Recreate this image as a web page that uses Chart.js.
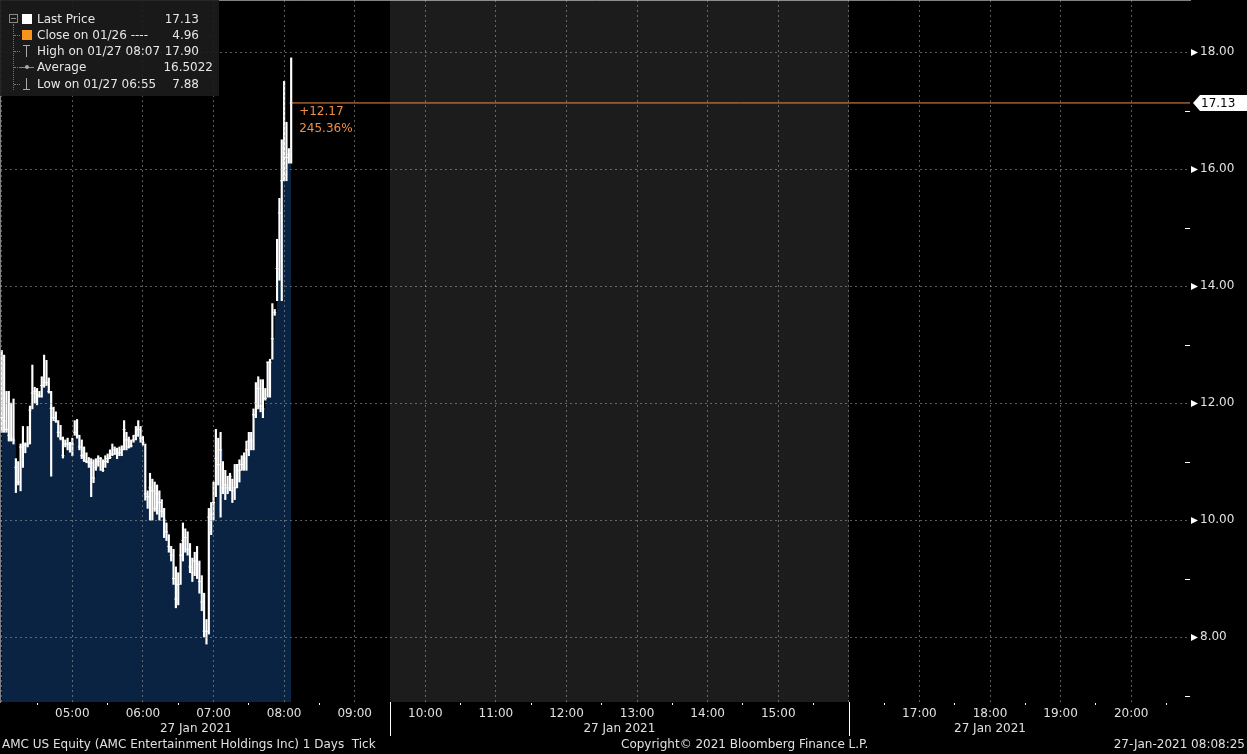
<!DOCTYPE html>
<html>
<head>
<meta charset="utf-8">
<script src="https://cdn.jsdelivr.net/npm/chart.js@4.4.0/dist/chart.umd.min.js"></script>
<style>
  html, body { margin: 0; padding: 0; background: #000; }
  #wrap { position: relative; width: 1247px; height: 754px; overflow: hidden; }
  #legend { position: absolute; left: 0; top: 0; width: 219px; height: 96px; background: rgba(28, 28, 28, 0.9);
            font: 12px "DejaVu Sans", sans-serif; color: #e6e6e6; }
  #legend div { position: absolute; }
  .lbl { left: 37px; line-height: 16px; white-space: pre; }
  .val { line-height: 16px; text-align: right; white-space: pre; }
  .foot { position: absolute; top: 737px; line-height: 16px; font: 12px "DejaVu Sans", sans-serif; color: #e0e0e0; white-space: pre; }
</style>
</head>
<body>
<div id="wrap">
  <canvas id="chart"></canvas>

  <div id="legend">
    <!-- tree lines -->
    <div style="left:9px;top:14px;width:7px;height:7px;border:1px solid #888"></div>
    <div style="left:11px;top:18px;width:5px;height:1px;background:#888"></div>
    <div style="left:13px;top:24px;height:66px;border-left:1px dotted #777"></div>
    <div style="left:14px;top:35px;width:6px;border-top:1px dotted #777"></div>
    <div style="left:14px;top:51px;width:6px;border-top:1px dotted #777"></div>
    <div style="left:14px;top:67px;width:6px;border-top:1px dotted #777"></div>
    <div style="left:14px;top:84px;width:6px;border-top:1px dotted #777"></div>
    <!-- markers -->
    <div style="left:22px;top:14px;width:10px;height:10px;background:#fff"></div>
    <div style="left:22px;top:30px;width:10px;height:10px;background:#f7941d"></div>
    <div style="left:23px;top:45px;width:7px;height:1px;background:#aaa"></div>
    <div style="left:26px;top:45px;width:1px;height:12px;background:#aaa"></div>
    <div style="left:20px;top:67px;width:14px;height:1px;background:#888"></div>
    <div style="left:25px;top:65px;width:4px;height:4px;border-radius:2px;background:#aaa"></div>
    <div style="left:26px;top:78px;width:1px;height:12px;background:#aaa"></div>
    <div style="left:23px;top:89px;width:7px;height:1px;background:#aaa"></div>
    <!-- texts -->
    <div class="lbl" style="top:11px">Last Price</div>
    <div class="val" style="top:11px;right:20px">17.13</div>
    <div class="lbl" style="top:27px">Close on 01/26 ----</div>
    <div class="val" style="top:27px;right:20px">4.96</div>
    <div class="lbl" style="top:43px">High on 01/27 08:07</div>
    <div class="val" style="top:43px;right:20px">17.90</div>
    <div class="lbl" style="top:59px">Average</div>
    <div class="val" style="top:59px;right:6px">16.5022</div>
    <div class="lbl" style="top:76px">Low on 01/27 06:55</div>
    <div class="val" style="top:76px;right:20px">7.88</div>
  </div>

  <div class="foot" style="left:2px">AMC US Equity (AMC Entertainment Holdings Inc) 1 Days  Tick</div>
  <div class="foot" style="left:621px">Copyright© 2021 Bloomberg Finance L.P.</div>
  <div class="foot" style="right:2px">27-Jan-2021 08:08:25</div>
</div>

<script>
// 2 minute bars from 04:00 until 08:08
const barStart = '04:00';
const barMinutes = 2;

const closes = [
  11.75, 11.70, 11.55, 11.45, 11.40, 11.37, 10.90, 10.65, 11.25, 11.30,
  11.28, 11.30, 11.88, 12.17, 12.20, 12.15, 12.12, 12.30, 12.36, 12.35,
  12.20, 11.91, 11.75, 11.70, 11.50, 11.40, 11.10, 11.30, 11.30, 11.30,
  11.30, 11.50, 11.45, 11.25, 11.10, 11.02, 11.00, 10.98, 10.98, 10.72,
  10.90, 11.00, 11.05, 10.85, 11.00, 11.05, 11.07, 11.13, 11.20, 11.13,
  11.15, 11.20, 11.55, 11.37, 11.25, 11.27, 11.37, 11.45, 11.55, 11.40,
  11.33, 10.45, 10.40, 10.55, 10.50, 10.20, 10.45, 10.30, 10.15, 10.00,
  9.80, 9.55, 9.40, 9.00, 8.65, 8.90, 9.40, 9.65, 9.70, 9.50,
  9.20, 9.10, 9.30, 9.25, 8.95, 8.60, 8.10, 8.10, 10.05, 10.10,
  10.30, 11.05, 10.95, 11.20, 10.55, 10.60, 10.55, 10.75, 10.50, 10.55,
  10.95, 10.85, 10.95, 11.05, 11.20, 11.35, 11.37, 11.80, 12.00, 12.25,
  11.95, 11.90, 12.08, 12.70, 12.70, 13.10, 13.55, 14.30, 15.25, 15.80,
  15.90, 16.20, 16.25, 17.13
];
const highs = [
  12.90, 12.82, 12.20, 12.20, 12.00, 12.07, 11.05, 11.00, 11.30, 11.60,
  11.32, 11.60, 11.95, 12.65, 12.27, 12.25, 12.20, 12.45, 12.82, 12.73,
  12.43, 12.20, 11.93, 11.85, 11.70, 11.62, 11.42, 11.37, 11.40, 11.33,
  11.40, 11.70, 11.72, 11.45, 11.37, 11.25, 11.15, 11.07, 11.05, 11.03,
  11.05, 11.10, 11.07, 11.03, 11.10, 11.13, 11.20, 11.30, 11.25, 11.23,
  11.25, 11.27, 11.70, 11.50, 11.42, 11.37, 11.45, 11.60, 11.70, 11.60,
  11.43, 11.30, 10.50, 10.80, 10.70, 10.65, 10.60, 10.50, 10.35, 10.20,
  9.95, 9.75, 9.55, 9.50, 9.20, 9.10, 9.60, 9.95, 9.85, 9.80,
  9.60, 9.35, 9.45, 9.55, 9.30, 9.05, 8.75, 8.30, 10.20, 10.30,
  10.65, 11.55, 11.40, 11.50, 11.00, 10.85, 10.75, 10.80, 10.70, 10.95,
  10.95, 11.03, 11.10, 11.15, 11.35, 11.50, 11.50, 11.90, 12.35, 12.45,
  12.40, 12.40, 12.25, 12.70, 12.75, 13.70, 13.60, 14.80, 15.50, 16.50,
  17.50, 16.80, 16.35, 17.90
];
const lows = [
  11.50, 11.50, 11.50, 11.35, 11.35, 11.30, 10.47, 10.60, 10.50, 10.90,
  11.15, 11.25, 11.30, 11.90, 12.00, 11.97, 12.10, 12.10, 12.27, 12.30,
  12.17, 10.75, 11.70, 11.67, 11.42, 11.37, 11.06, 11.25, 11.20, 11.16,
  11.10, 11.45, 11.40, 11.20, 11.05, 11.00, 10.98, 10.90, 10.40, 10.64,
  10.85, 10.92, 10.85, 10.83, 10.90, 10.98, 11.05, 11.10, 11.12, 11.05,
  11.10, 11.10, 11.20, 11.20, 11.23, 11.25, 11.33, 11.37, 11.43, 11.33,
  11.28, 10.34, 10.20, 10.00, 10.00, 10.15, 10.10, 10.00, 10.05, 9.70,
  9.65, 9.45, 9.30, 8.90, 8.50, 8.55, 8.90, 9.30, 9.45, 9.40,
  9.10, 8.95, 9.05, 9.00, 8.75, 8.45, 8.00, 7.88, 8.05, 9.75,
  10.00, 10.40, 10.60, 10.05, 10.45, 10.35, 10.45, 10.50, 10.30, 10.35,
  10.55, 10.65, 10.85, 10.85, 10.85, 11.10, 11.20, 11.20, 11.75, 11.90,
  11.85, 11.75, 12.05, 12.10, 12.10, 12.75, 13.50, 13.75, 14.10, 13.75,
  15.80, 15.80, 16.10, 16.10
];

const lastPrice = 17.13;
const prevClose = 4.96;

const yLabelTicks = [8, 10, 12, 14, 16, 18];
const yMinorTicks = [7, 9, 11, 13, 15, 17];
const hourLabels = ['05:00', '06:00', '07:00', '08:00', '09:00', '10:00', '11:00', '12:00',
                    '13:00', '14:00', '15:00', '17:00', '18:00', '19:00', '20:00'];
const sessionEdges = ['04:00', '09:30', '16:00', '20:00'];
const dateLabel = '27 Jan 2021';

const TEXT = '#e0e0e0';
const GRID = 'rgba(165, 165, 165, 0.55)';
const NAVY = '#0b2342';
const ORANGE = '#ee8f45';
const FONT = '"DejaVu Sans", sans-serif';

const toMin = s => { const [h, m] = s.split(':').map(Number); return h * 60 + m; };
const pad = n => String(n).padStart(2, '0');
const fmt = m => pad(Math.floor(m / 60)) + ':' + pad(Math.round(m % 60));

const xMin = toMin('04:00') - 1.5;
const xMax = toMin('20:50');
const yMin = 6.89, yMax = 18.89;

const times = closes.map((_, i) => toMin(barStart) + i * barMinutes);
const lastTime = times[times.length - 1];

const xTicks = [];
for (let m = toMin('04:00'); m <= toMin('20:30'); m += 30) xTicks.push(m);
const yTicksAll = [...yMinorTicks, ...yLabelTicks].sort((a, b) => a - b);

const overlay = {
  id: 'overlay',
  beforeDraw(chart) {
    const { ctx, chartArea: a, scales: { x } } = chart;
    const x0 = x.getPixelForValue(toMin(sessionEdges[1]));
    const x1 = x.getPixelForValue(toMin(sessionEdges[2]));
    ctx.save();
    ctx.fillStyle = '#1c1c1c';
    ctx.fillRect(x0, a.top, x1 - x0, a.bottom - a.top);
    ctx.restore();
  },
  afterDraw(chart) {
    const { ctx, chartArea: a, scales: { x, y } } = chart;
    ctx.save();

    // y axis markers
    ctx.fillStyle = '#fff';
    ctx.strokeStyle = '#fff';
    ctx.lineWidth = 1;
    yLabelTicks.forEach(v => {
      const py = Math.round(y.getPixelForValue(v)) + 0.5;
      ctx.beginPath();
      ctx.moveTo(a.right + 1, py - 3.5);
      ctx.lineTo(a.right + 8, py);
      ctx.lineTo(a.right + 1, py + 3.5);
      ctx.closePath();
      ctx.fill();
    });
    yMinorTicks.forEach(v => {
      const py = Math.round(y.getPixelForValue(v)) + 0.5;
      ctx.beginPath();
      ctx.moveTo(a.right - 5, py);
      ctx.lineTo(a.right, py);
      ctx.stroke();
    });

    // last price tag
    const ly = y.getPixelForValue(lastPrice);
    ctx.beginPath();
    ctx.moveTo(a.right + 3, ly);
    ctx.lineTo(a.right + 10, ly - 8);
    ctx.lineTo(chart.width, ly - 8);
    ctx.lineTo(chart.width, ly + 8);
    ctx.lineTo(a.right + 10, ly + 8);
    ctx.closePath();
    ctx.fill();
    ctx.fillStyle = '#000';
    ctx.font = '12px ' + FONT;
    ctx.textBaseline = 'middle';
    ctx.textAlign = 'left';
    ctx.fillText(lastPrice.toFixed(2), a.right + 11, ly + 1);

    // change from previous close
    const chg = lastPrice - prevClose;
    const lx = x.getPixelForValue(lastTime);
    ctx.fillStyle = ORANGE;
    ctx.fillText('+' + chg.toFixed(2), lx + 8, ly + 9);
    ctx.fillText((chg / prevClose * 100).toFixed(2) + '%', lx + 8, ly + 26);

    // session separators and date labels
    ctx.strokeStyle = '#fff';
    [sessionEdges[1], sessionEdges[2]].forEach(s => {
      const px = Math.round(x.getPixelForValue(toMin(s))) + 0.5;
      ctx.beginPath();
      ctx.moveTo(px, a.bottom);
      ctx.lineTo(px, a.bottom + 34);
      ctx.stroke();
    });
    ctx.fillStyle = TEXT;
    ctx.textAlign = 'center';
    for (let i = 0; i < sessionEdges.length - 1; i++) {
      const c = (x.getPixelForValue(toMin(sessionEdges[i])) + x.getPixelForValue(toMin(sessionEdges[i + 1]))) / 2;
      ctx.fillText(dateLabel, c, a.bottom + 27);
    }
    ctx.restore();
  }
};

new Chart(document.getElementById('chart'), {
  type: 'line',
  data: {
    datasets: [
      {
        label: 'Last Price',
        type: 'line',
        data: [{ x: lastTime, y: lastPrice }, { x: xMax, y: lastPrice }],
        borderColor: ORANGE,
        borderWidth: 1,
        pointRadius: 0,
        order: 1
      },
      {
        label: 'Close',
        type: 'line',
        data: times.map((t, i) => ({ x: t, y: closes[i] })),
        showLine: false,
        pointStyle: 'line',
        pointRadius: 1.5,
        pointBorderWidth: 1,
        pointBorderColor: '#fff',
        order: 2
      },
      {
        label: 'Range',
        type: 'bar',
        data: times.map((t, i) => ({ x: t, y: [lows[i], highs[i]] })),
        backgroundColor: '#fff',
        borderWidth: 0,
        barThickness: 1.5,
        grouped: false,
        order: 3
      },
      {
        label: 'Area',
        type: 'line',
        data: times.map((t, i) => ({ x: t, y: closes[i] })),
        stepped: true,
        fill: 'start',
        backgroundColor: NAVY,
        borderColor: 'transparent',
        borderWidth: 0,
        pointRadius: 0,
        order: 4
      }
    ]
  },
  options: {
    responsive: true,
    maintainAspectRatio: false,
    animation: false,
    events: [],
    layout: { padding: 0, autoPadding: false },
    plugins: { legend: { display: false }, tooltip: { enabled: false } },
    scales: {
      x: {
        type: 'linear',
        min: xMin,
        max: xMax,
        offset: false,
        afterBuildTicks: s => { s.ticks = xTicks.map(v => ({ value: v })); },
        afterFit: s => { s.height = 52; s.paddingLeft = 0; s.paddingRight = 0; },
        grid: {
          offset: false,
          z: 1,
          color: c => (c.tick && c.tick.value % 60 === 0) ? GRID : 'transparent',
          tickColor: c => (c.tick && c.tick.value % 60 === 30) ? '#fff' : 'transparent',
          tickLength: 3
        },
        border: { color: '#fff', width: 1, dash: [2, 3] },
        ticks: {
          autoSkip: false,
          maxRotation: 0,
          padding: 2,
          color: TEXT,
          font: { family: FONT, size: 12 },
          callback: v => hourLabels.includes(fmt(v)) ? fmt(v) : ''
        }
      },
      y: {
        type: 'linear',
        position: 'right',
        min: yMin,
        max: yMax,
        afterBuildTicks: s => { s.ticks = yTicksAll.map(v => ({ value: v })); },
        afterFit: s => { s.width = 57; s.paddingTop = 0; s.paddingBottom = 0; },
        grid: {
          z: 1,
          drawTicks: false,
          color: c => (c.tick && yLabelTicks.includes(c.tick.value)) ? GRID : 'transparent'
        },
        border: { color: '#fff', width: 1, dash: [2, 3] },
        ticks: {
          padding: 10,
          color: TEXT,
          font: { family: FONT, size: 12 },
          callback: v => yLabelTicks.includes(v) ? v.toFixed(2) : ''
        }
      }
    }
  },
  plugins: [overlay]
});
</script>
</body>
</html>
